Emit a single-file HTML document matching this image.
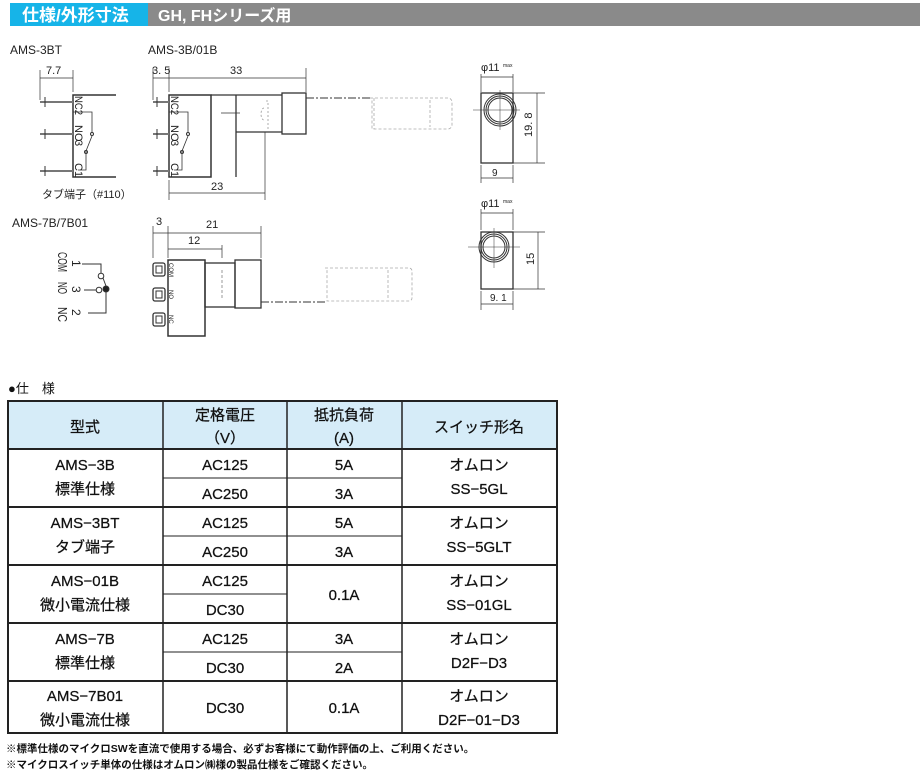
<!DOCTYPE html>
<html><head><meta charset="utf-8"><style>
html,body{margin:0;padding:0;background:#fff;}
svg{display:block;font-family:"Liberation Sans","Noto Sans CJK JP",sans-serif;}
</style></head><body>
<svg width="920" height="773" viewBox="0 0 920 773" xmlns="http://www.w3.org/2000/svg">
<rect x="10" y="3" width="138" height="23" fill="#16b4e8"/>
<rect x="148" y="3" width="772" height="23" fill="#8a8a8a"/>
<text x="22" y="21" font-size="17" font-weight="bold" fill="#fff">仕様/外形寸法</text>
<text x="158" y="21" font-size="16" font-weight="bold" fill="#fff">GH, FHシリーズ用</text>

<g font-size="12" fill="#222">
<text x="10" y="54">AMS-3BT</text>
<text x="148" y="54">AMS-3B/01B</text>
<text x="12" y="227">AMS-7B/7B01</text>
<text x="42" y="198" font-size="11">タブ端子（#110）</text>
</g>

<g stroke="#333" fill="none" stroke-width="1">
<path d="M116 95H73V177H116" stroke-width="1.5"/>
<path d="M40 102H73M40 134H73M40 171H73" stroke="#777" stroke-width="2"/>
<path d="M45 97v10M45 129v10M45 166v10" />
<path d="M73 112H92V133M78 170H86V151L92 136" stroke-width="0.8"/>
<circle cx="92" cy="134" r="1.5"/><circle cx="86" cy="152" r="1.5"/>
<path d="M40 70V100M73 70V92M40 78H73" stroke-width="0.7"/>
<rect x="169" y="95" width="42" height="82" stroke-width="1.5"/>
<path d="M211 95H282M236 95V177M236 132H282" stroke-width="1.3"/>
<rect x="282" y="93" width="24" height="41" stroke-width="1.3"/>
<path d="M221 113H240" stroke-width="0.8"/>
<path d="M266 101h2v28h-2M264 108a3 6 0 0 0 0 12" stroke="#999" stroke-dasharray="2 2" stroke-width="0.8"/>
<path d="M306 98H370" stroke-dasharray="8 2 2 2" stroke-width="0.9"/>
<path d="M370 98H448a4 4 0 0 1 4 4V125a4 4 0 0 1-4 4H372V98M374 98V129M430 100V127" stroke="#aaa" stroke-dasharray="3 2" stroke-width="0.8"/>
<path d="M153 102H169M153 134H169M153 171H169" stroke="#777" stroke-width="2"/>
<path d="M157 97v10M157 129v10M157 166v10"/>
<path d="M169 112H188V133M174 170H182V151L188 136" stroke-width="0.8"/>
<circle cx="188" cy="134" r="1.5"/><circle cx="182" cy="152" r="1.5"/>
<path d="M153 68V100M169 68V92M306 68V92M153 78H306" stroke-width="0.7"/>
<path d="M169 180V200M265 132V200M169 193H265" stroke-width="0.7"/>
<rect x="481" y="93" width="32" height="70" stroke-width="1.3"/>
<circle cx="500" cy="110" r="16"/><circle cx="500" cy="110" r="14"/><circle cx="500" cy="110" r="12"/>
<path d="M473 110H520M500 90V130" stroke-width="0.5"/>
<path d="M481 74V92M513 74V92M481 77H513" stroke-width="0.7"/>
<path d="M513 93H545M513 163H545M537 93V163" stroke-width="0.7"/>
<path d="M481 165V183M513 165V183M481 178H513" stroke-width="0.7"/>
<rect x="481" y="232" width="32" height="57" stroke-width="1.3"/>
<circle cx="494" cy="247" r="15"/><circle cx="494" cy="247" r="13"/><circle cx="494" cy="247" r="11"/>
<path d="M468 247H520M494 228V268" stroke-width="0.5"/>
<path d="M481 209V230M513 209V230M481 213H513" stroke-width="0.7"/>
<path d="M513 232H545M513 289H545M538 232V289" stroke-width="0.7"/>
<path d="M481 291V310M513 291V310M481 304H513" stroke-width="0.7"/>
<rect x="168" y="260" width="37" height="76" stroke-width="1.5"/>
<rect x="205" y="263" width="30" height="44" stroke-width="1.3"/>
<rect x="235" y="260" width="26" height="48" stroke-width="1.3"/>
<path d="M222 270V300" stroke="#999" stroke-dasharray="3 2"/>
<path d="M261 302H325" stroke-dasharray="8 2 2 2" stroke-width="0.9"/>
<path d="M325 268H409a3 3 0 0 1 3 3V298a3 3 0 0 1-3 3H327V268M388 270V300" stroke="#aaa" stroke-dasharray="3 2" stroke-width="0.8"/>
<rect x="153" y="263" width="12" height="13" rx="2" stroke-width="1.3"/><rect x="156" y="266" width="6" height="7" />
<rect x="153" y="288" width="12" height="13" rx="2" stroke-width="1.3"/><rect x="156" y="291" width="6" height="7" />
<rect x="153" y="313" width="12" height="13" rx="2" stroke-width="1.3"/><rect x="156" y="316" width="6" height="7" />
<path d="M153 226V258M168 226V258M261 226V258M153 233H261M222 245V258M168 249H222" stroke-width="0.7"/>
<path d="M82 264H101V273M84 290H96M88 313H106V292" stroke-width="1"/>
<circle cx="101" cy="276" r="2.8" fill="#fff"/><circle cx="99" cy="290" r="2.8" fill="#fff"/>
<circle cx="106" cy="289" r="3" fill="#222"/>
<path d="M103 278L106 286" stroke-width="1"/>
</g>
<g font-size="11" fill="#222">
<text transform="translate(75,96) rotate(90)" textLength="19" lengthAdjust="spacingAndGlyphs">NC2</text>
<text transform="translate(75,125) rotate(90)">NO</text>
<text transform="translate(75,140) rotate(90)">3</text>
<text transform="translate(75,163) rotate(90)">C1</text>
<text transform="translate(171,96) rotate(90)" textLength="19" lengthAdjust="spacingAndGlyphs">NC2</text>
<text transform="translate(171,125) rotate(90)">NO</text>
<text transform="translate(171,140) rotate(90)">3</text>
<text transform="translate(171,163) rotate(90)">C1</text>
<text transform="translate(58,252) rotate(90)" font-size="13" textLength="20" lengthAdjust="spacingAndGlyphs">COM</text>
<text transform="translate(58,282) rotate(90)" font-size="13" textLength="12" lengthAdjust="spacingAndGlyphs">NO</text>
<text transform="translate(58,307) rotate(90)" font-size="13" textLength="15" lengthAdjust="spacingAndGlyphs">NC</text>
<text transform="translate(72,260) rotate(90)" font-size="12">1</text>
<text transform="translate(72,286) rotate(90)" font-size="12">3</text>
<text transform="translate(72,309) rotate(90)" font-size="12">2</text>
<text transform="translate(169,263) rotate(90)" font-size="6">COM</text>
<text transform="translate(169,290) rotate(90)" font-size="6">NO</text>
<text transform="translate(169,315) rotate(90)" font-size="6">NC</text>
<text x="46" y="74" font-size="11">7.7</text>
<text x="152" y="74" font-size="11">3. 5</text>
<text x="230" y="74" font-size="11">33</text>
<text x="211" y="190" font-size="11">23</text>
<text x="481" y="71" font-size="11">φ11</text><text x="503" y="67" font-size="5">max</text>
<text x="492" y="176" font-size="10">9</text>
<text transform="translate(532,137) rotate(-90)" font-size="11">19. 8</text>
<text x="481" y="207" font-size="11">φ11</text><text x="503" y="203" font-size="5">max</text>
<text x="490" y="301" font-size="10">9. 1</text>
<text transform="translate(534,265) rotate(-90)" font-size="11">15</text>
<text x="156" y="225" font-size="11">3</text>
<text x="206" y="228" font-size="11">21</text>
<text x="188" y="244" font-size="11">12</text>
</g>

<text x="8" y="393" font-size="13" fill="#111">●仕　様</text>
<rect x="8" y="401" width="549" height="48" fill="#d6ecf8"/>
<g stroke="#222" fill="none">
<rect x="8" y="401" width="549" height="332" stroke-width="2"/>
<path d="M8 449H557M8 507H557M8 565H557M8 623H557M8 681H557" stroke-width="2"/>
<path d="M163 401V733M287 401V733M402 401V733" stroke-width="1.5"/>
<path d="M163 478H402M163 536H402M163 594H287M163 652H402" stroke-width="1"/>
</g>
<g font-size="15" fill="#111" text-anchor="middle" stroke="#111" stroke-width="0.25">
<text x="85" y="432">型式</text>
<text x="225" y="420">定格電圧</text><text x="225" y="443">（V）</text>
<text x="344" y="420">抵抗負荷</text><text x="344" y="443">(A)</text>
<text x="479" y="432">スイッチ形名</text>
<text x="85" y="470">AMS−3B</text><text x="85" y="494">標準仕様</text>
<text x="225" y="470">AC125</text><text x="225" y="499">AC250</text>
<text x="344" y="470">5A</text><text x="344" y="499">3A</text>
<text x="479" y="470">オムロン</text><text x="479" y="494">SS−5GL</text>
<text x="85" y="528">AMS−3BT</text><text x="85" y="552">タブ端子</text>
<text x="225" y="528">AC125</text><text x="225" y="557">AC250</text>
<text x="344" y="528">5A</text><text x="344" y="557">3A</text>
<text x="479" y="528">オムロン</text><text x="479" y="552">SS−5GLT</text>
<text x="85" y="586">AMS−01B</text><text x="85" y="610">微小電流仕様</text>
<text x="225" y="586">AC125</text><text x="225" y="615">DC30</text>
<text x="344" y="600">0.1A</text>
<text x="479" y="586">オムロン</text><text x="479" y="610">SS−01GL</text>
<text x="85" y="644">AMS−7B</text><text x="85" y="668">標準仕様</text>
<text x="225" y="644">AC125</text><text x="225" y="673">DC30</text>
<text x="344" y="644">3A</text><text x="344" y="673">2A</text>
<text x="479" y="644">オムロン</text><text x="479" y="668">D2F−D3</text>
<text x="85" y="701">AMS−7B01</text><text x="85" y="725">微小電流仕様</text>
<text x="225" y="713">DC30</text>
<text x="344" y="713">0.1A</text>
<text x="479" y="701">オムロン</text><text x="479" y="725">D2F−01−D3</text>
</g>
<g font-size="10.5" fill="#111" font-weight="bold">
<text x="6" y="752">※標準仕様のマイクロSWを直流で使用する場合、必ずお客様にて動作評価の上、ご利用ください。</text>
<text x="6" y="768">※マイクロスイッチ単体の仕様はオムロン㈱様の製品仕様をご確認ください。</text>
</g>
</svg>
</body></html>
